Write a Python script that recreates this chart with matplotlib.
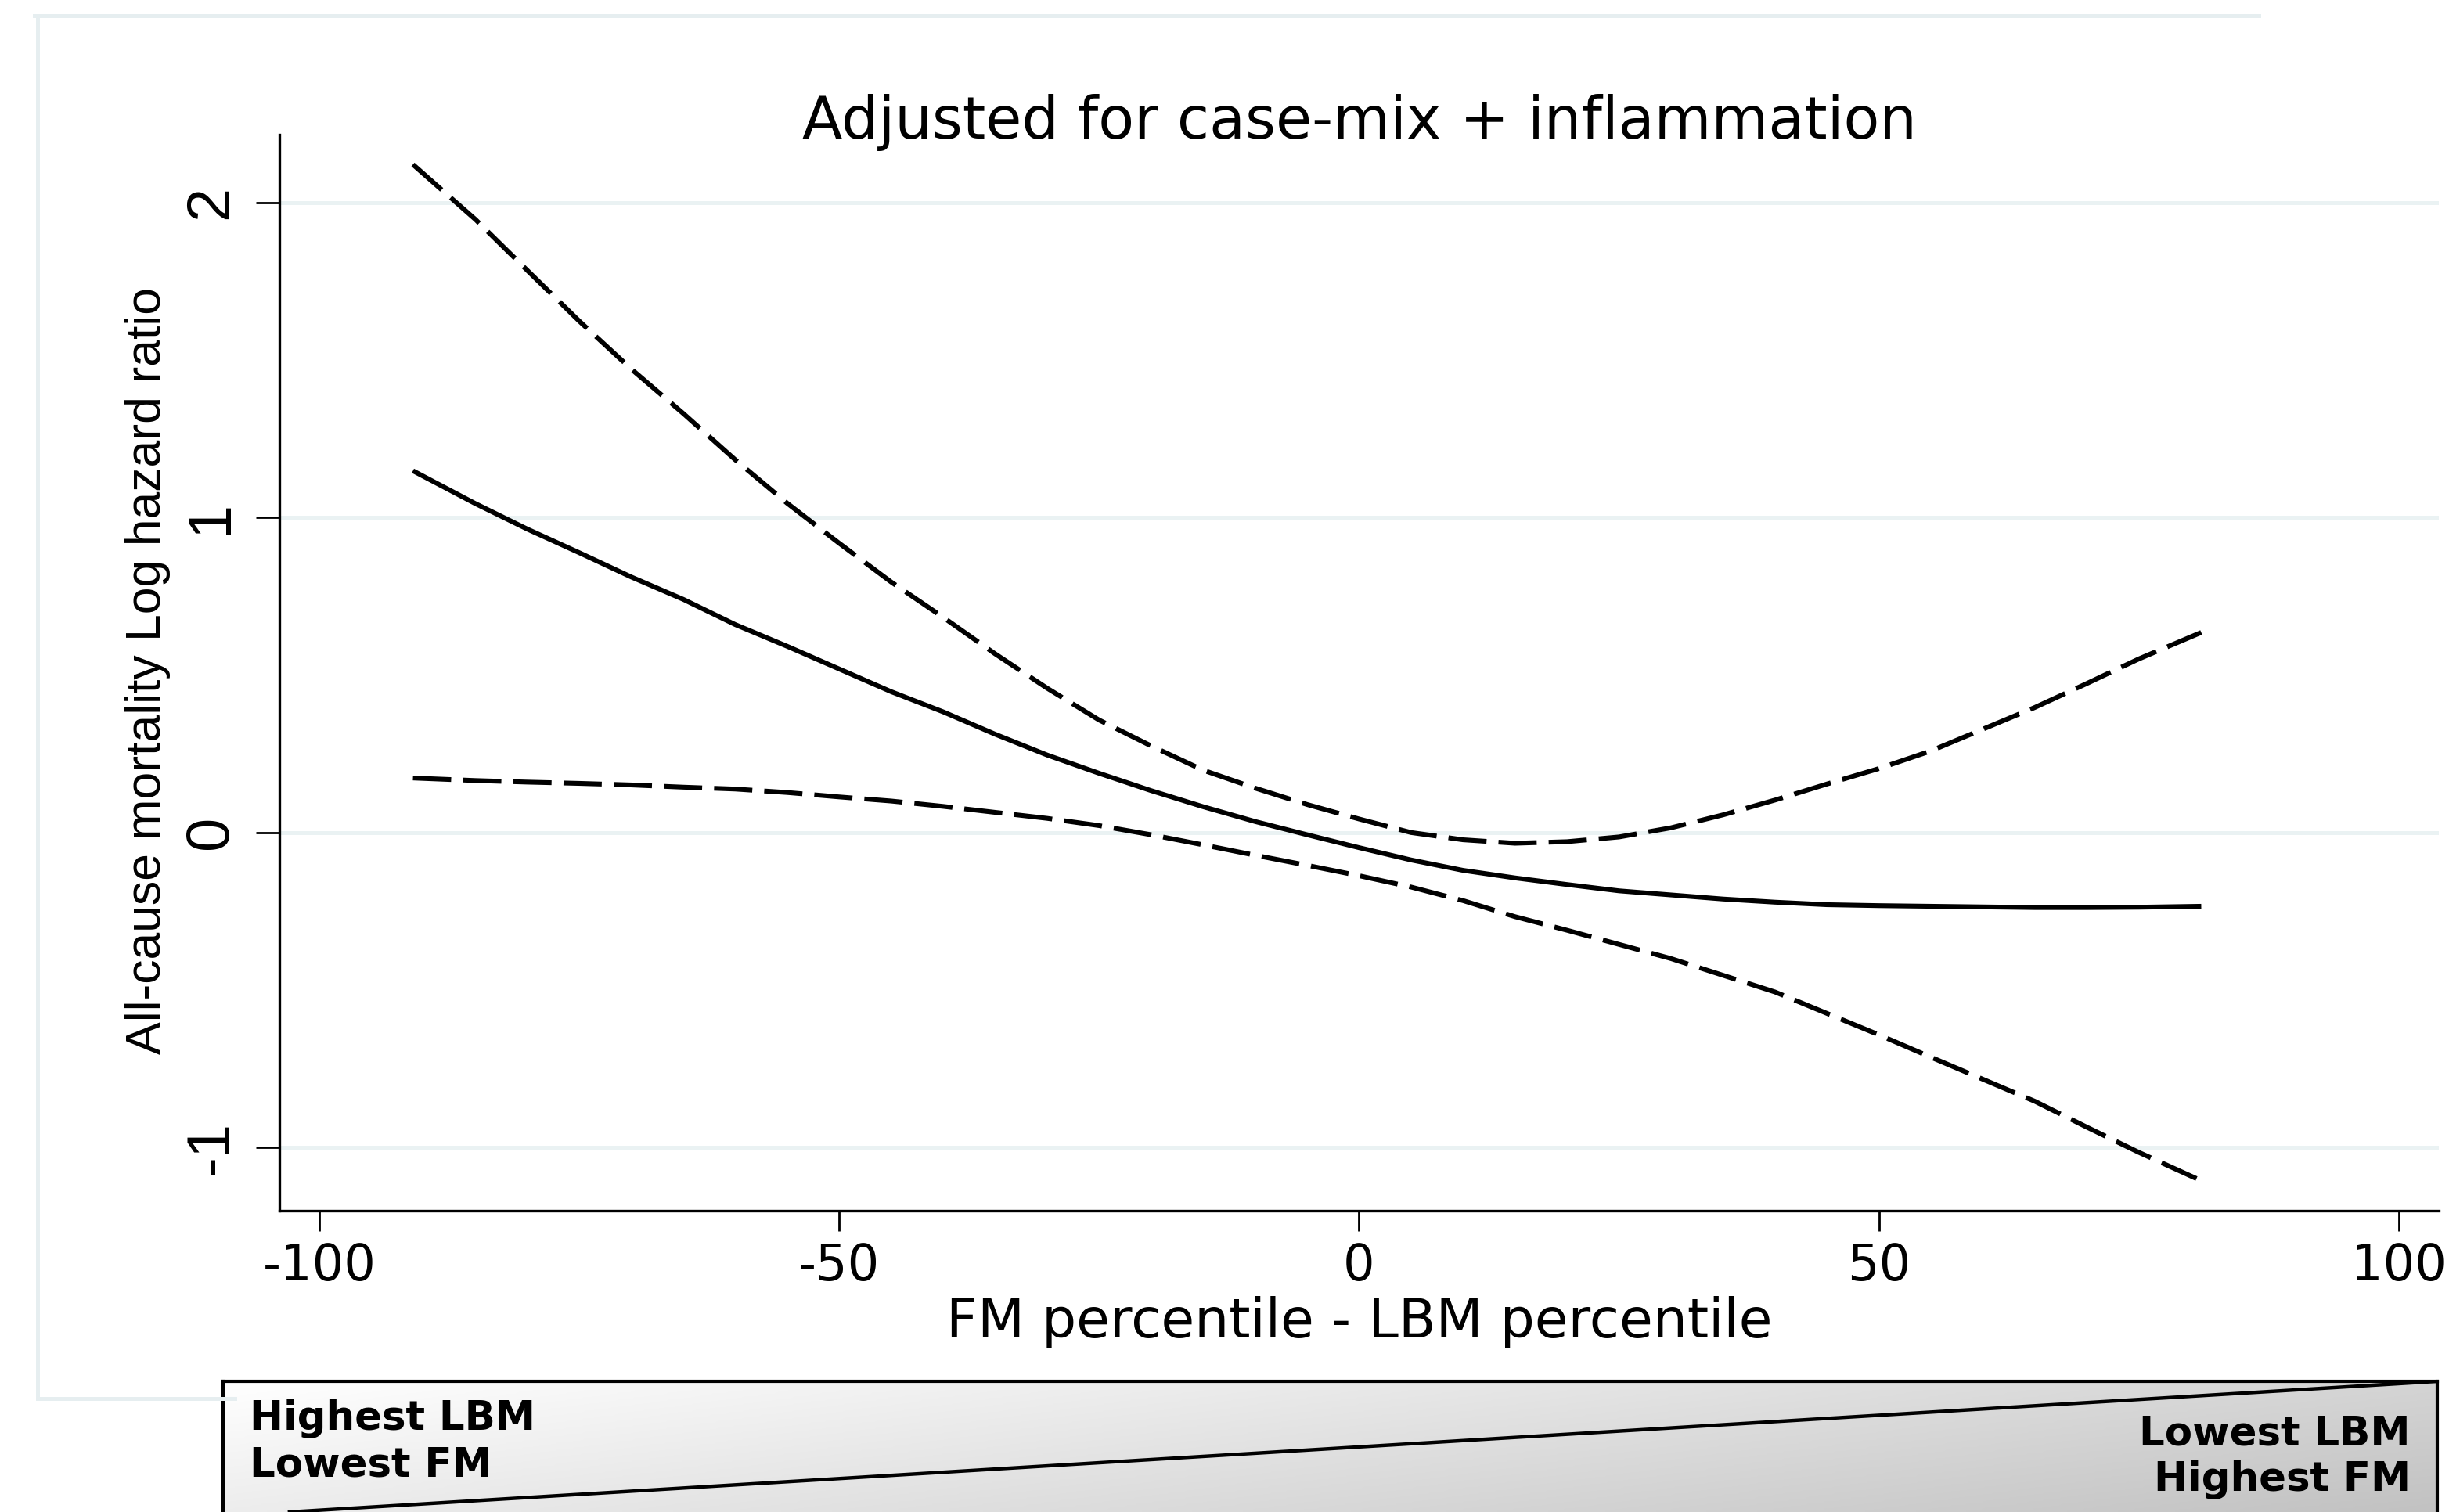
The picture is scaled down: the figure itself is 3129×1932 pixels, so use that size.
import numpy as np
import matplotlib
matplotlib.use("Agg")
import matplotlib.pyplot as plt
from matplotlib import font_manager
from matplotlib.lines import Line2D

# spline estimate and 95% CI
x = [-91, -85, -80, -75, -70, -65, -60, -55, -50, -45, -40, -35, -30, -25, -20, -15, -10, -5,
     0, 5, 10, 15, 20, 25, 30, 35, 40, 45, 50, 55, 60, 65, 70, 75, 81]
est = [1.148, 1.044, 0.963, 0.888, 0.811, 0.740, 0.660, 0.591, 0.519, 0.447, 0.383, 0.312,
       0.246, 0.188, 0.133, 0.082, 0.035, -0.007, -0.048, -0.087, -0.120, -0.144, -0.165,
       -0.185, -0.198, -0.211, -0.221, -0.229, -0.232, -0.234, -0.236, -0.238, -0.238,
       -0.237, -0.234]
upper = [2.120, 1.946, 1.784, 1.623, 1.471, 1.330, 1.183, 1.045, 0.918, 0.795, 0.683, 0.567,
         0.458, 0.357, 0.275, 0.198, 0.141, 0.089, 0.043, 0.000, -0.023, -0.034, -0.029,
         -0.014, 0.015, 0.056, 0.103, 0.154, 0.203, 0.259, 0.328, 0.397, 0.473, 0.551, 0.635]
lower = [0.173, 0.165, 0.160, 0.156, 0.151, 0.144, 0.138, 0.127, 0.113, 0.100, 0.083, 0.064,
         0.045, 0.022, -0.007, -0.039, -0.072, -0.104, -0.137, -0.173, -0.216, -0.267, -0.310,
         -0.355, -0.400, -0.453, -0.506, -0.574, -0.642, -0.713, -0.783, -0.853, -0.935,
         -1.015, -1.105]

xticks = [-100, -50, 0, 50, 100]
yticks = [-1, 0, 1, 2]

names = {f.name for f in font_manager.fontManager.ttflist}
if "Liberation Sans Narrow" in names:
    narrow, nsize = "Liberation Sans Narrow", 27.5
else:
    narrow, nsize = "Liberation Sans", 22.5

plt.rcParams["font.family"] = ["DejaVu Sans"]

fig = plt.figure(figsize=(3129 / 200, 1932 / 200), dpi=200)
frame_col = "#e6eef0"

# light outer frame (graph region)
fig.add_artist(Line2D([44 / 3129, 2886 / 3129], [1 - 20 / 1932] * 2, color=frame_col, lw=1.8))
fig.add_artist(Line2D([48 / 3129] * 2, [1 - 20 / 1932, 1 - 1787 / 1932], color=frame_col, lw=1.8))
fig.add_artist(Line2D([48 / 3129, 300 / 3129], [1 - 1787 / 1932] * 2, color=frame_col, lw=1.8))

ax = fig.add_axes([0.1141, 0.1993, 0.8817, 0.7117])
ax.set_xlim(-103.84, 103.84)
ax.set_ylim(-1.20, 2.215)

ax.plot(x, est, color="black", lw=2.2, solid_capstyle="butt")
ax.plot(x, upper, color="black", lw=2.2, dashes=(8, 2.5))
ax.plot(x, lower, color="black", lw=2.2, dashes=(8, 2.5))

ax.set_xticks(xticks)
ax.set_yticks(yticks)
ax.set_xticklabels([str(v) for v in xticks])
ax.set_yticklabels([str(v) for v in yticks])
ax.yaxis.grid(True, color="#eaf2f3", lw=1.8)
ax.set_axisbelow(True)

for s in ["top", "right"]:
    ax.spines[s].set_visible(False)
for s in ["left", "bottom"]:
    ax.spines[s].set_linewidth(1.2)

ax.tick_params(axis="x", length=9.4, width=1.0, pad=5.0, labelsize=23)
ax.tick_params(axis="y", length=10.8, width=1.0, pad=7.4, labelrotation=90)
for lab in ax.get_yticklabels():
    lab.set_fontfamily(narrow)
    lab.set_fontsize(28)
    lab.set_va("center")

ax.set_title("Adjusted for case-mix + inflammation", fontsize=27, y=0.9963, pad=0, va="baseline")

ax.set_xlabel("FM percentile - LBM percentile", fontsize=25)
ax.xaxis.label.set_va("baseline")
ax.xaxis.set_label_coords(0.5, -0.118)

ax.set_ylabel("All-cause mortality Log hazard ratio", fontsize=nsize, family=narrow)
ax.yaxis.label.set_rotation_mode("anchor")
ax.yaxis.label.set_va("baseline")
ax.yaxis.label.set_ha("center")
ax.yaxis.set_label_coords(-0.0551, 0.5018)

# gradient legend box at the bottom
bx = fig.add_axes([285 / 3129, 0, (3114 - 285) / 3129, 167 / 1932])
gx, gy = np.meshgrid(np.linspace(0, 1, 400), np.linspace(0, 1, 60))
g = 0.7 * gx + 0.3 * gy
bx.imshow(g, extent=[0, 1, 0, 1], origin="upper", aspect="auto",
          cmap=matplotlib.colors.LinearSegmentedColormap.from_list("gr", ["#ffffff", "#c2c2c2"]),
          vmin=0, vmax=1)
bx.plot([0.03, 1], [0.0, 1], color="black", lw=1.6)
bx.set_xlim(0, 1)
bx.set_ylim(0, 1)
bx.set_xticks([])
bx.set_yticks([])
bx.spines["bottom"].set_visible(False)
for s in ["top", "left", "right"]:
    bx.spines[s].set_linewidth(1.5)

fig.text(0.102, 0.0543, "Highest LBM", fontsize=18.5, fontweight="bold", va="baseline")
fig.text(0.102, 0.0233, "Lowest FM", fontsize=18.5, fontweight="bold", va="baseline")
fig.text(0.9843, 0.0440, "Lowest LBM", fontsize=18.5, fontweight="bold", va="baseline", ha="right")
fig.text(0.9843, 0.0140, "Highest FM", fontsize=18.5, fontweight="bold", va="baseline", ha="right")

fig.savefig("out.png", dpi=200)
